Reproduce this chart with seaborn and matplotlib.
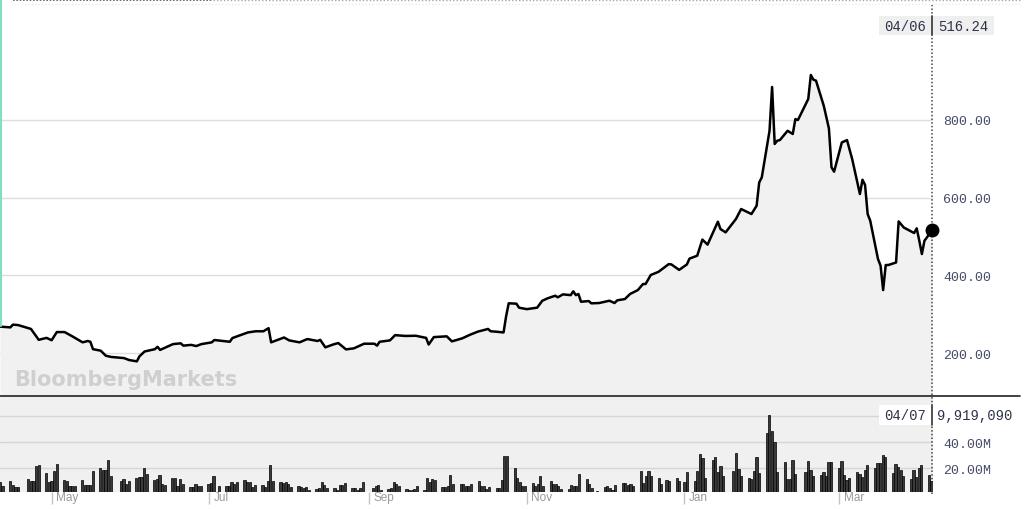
import pandas as pd
import matplotlib
matplotlib.use("Agg")
import matplotlib.pyplot as plt
from matplotlib.lines import Line2D
from matplotlib.patches import Rectangle
from matplotlib.transforms import ScaledTranslation, blended_transform_factory
import seaborn as sns

# ---------------- data ----------------
price_dates = [
    "2019-04-11", "2019-04-15", "2019-04-16", "2019-04-18", "2019-04-21", "2019-04-23",
    "2019-04-26", "2019-04-29", "2019-05-01", "2019-05-03", "2019-05-06", "2019-05-09",
    "2019-05-13", "2019-05-15", "2019-05-16", "2019-05-17", "2019-05-20", "2019-05-22",
    "2019-05-24", "2019-05-29", "2019-05-31", "2019-06-03", "2019-06-04", "2019-06-06",
    "2019-06-10", "2019-06-11", "2019-06-12", "2019-06-17", "2019-06-20", "2019-06-21",
    "2019-06-24", "2019-06-26", "2019-06-28", "2019-07-02", "2019-07-03", "2019-07-09",
    "2019-07-10", "2019-07-15", "2019-07-16", "2019-07-19", "2019-07-22", "2019-07-24",
    "2019-07-25", "2019-07-26", "2019-07-30", "2019-08-01", "2019-08-05", "2019-08-08",
    "2019-08-12", "2019-08-13", "2019-08-15", "2019-08-18", "2019-08-20", "2019-08-23",
    "2019-08-26", "2019-08-30", "2019-09-03", "2019-09-04", "2019-09-05", "2019-09-09",
    "2019-09-11", "2019-09-15", "2019-09-19", "2019-09-23", "2019-09-24", "2019-09-26",
    "2019-10-01", "2019-10-03", "2019-10-07", "2019-10-10", "2019-10-13", "2019-10-17",
    "2019-10-18", "2019-10-20", "2019-10-23", "2019-10-24", "2019-10-25", "2019-10-28",
    "2019-10-29", "2019-11-01", "2019-11-05", "2019-11-07", "2019-11-09", "2019-11-12",
    "2019-11-13", "2019-11-15", "2019-11-18", "2019-11-19", "2019-11-20", "2019-11-21",
    "2019-11-22", "2019-11-25", "2019-11-26", "2019-11-29", "2019-12-03", "2019-12-05",
    "2019-12-06", "2019-12-09", "2019-12-11", "2019-12-14", "2019-12-16", "2019-12-17",
    "2019-12-19", "2019-12-22", "2019-12-26", "2019-12-27", "2019-12-30", "2020-01-02",
    "2020-01-03", "2020-01-06", "2020-01-08", "2020-01-10", "2020-01-14", "2020-01-15",
    "2020-01-17", "2020-01-21", "2020-01-23", "2020-01-27", "2020-01-29", "2020-01-30",
    "2020-01-31", "2020-02-03", "2020-02-04", "2020-02-05", "2020-02-06", "2020-02-07",
    "2020-02-10", "2020-02-12", "2020-02-13", "2020-02-14", "2020-02-18", "2020-02-19",
    "2020-02-20", "2020-02-21", "2020-02-24", "2020-02-26", "2020-02-27", "2020-02-28",
    "2020-03-02", "2020-03-04", "2020-03-06", "2020-03-09", "2020-03-10", "2020-03-11",
    "2020-03-12", "2020-03-13", "2020-03-16", "2020-03-17", "2020-03-18", "2020-03-19",
    "2020-03-20", "2020-03-23", "2020-03-24", "2020-03-26", "2020-03-30", "2020-03-31",
    "2020-04-01", "2020-04-02", "2020-04-03", "2020-04-06",
]
price_values = [
    268, 266, 273, 272, 266, 262,
    234, 239, 233, 254, 254, 243,
    227.5, 231, 229, 210, 206, 193,
    190, 187, 182, 178.6, 191.5, 204,
    210, 216, 208, 223, 225, 219,
    221, 218, 223, 227.5, 233.5, 229,
    238.6, 250.6, 253, 256, 256, 264,
    227.5, 230, 240, 232.5, 227.5, 236,
    231, 234, 214.6, 222, 225.7, 209.4,
    212, 224, 224, 219, 229, 232.5,
    246, 244, 244.5, 239, 222, 241,
    243, 230, 237.8, 247, 255, 262,
    256, 255, 253, 295, 328, 327,
    316.7, 313, 316.7, 334.6, 340.7, 347.5,
    343.4, 351, 349, 358.8, 349, 351.9,
    332, 333.8, 327.9, 328.7, 334.6, 328.7,
    335.6, 339, 352, 362, 377.6, 377.6,
    400.8, 409, 429, 428, 414, 428,
    443, 450.5, 492, 479, 538, 519,
    510.6, 545, 570.6, 557.8, 579, 639,
    652, 772, 884.7, 738, 746.5, 748,
    772, 763.7, 802, 799.7, 853.8, 915.6,
    903.5, 901, 836.5, 778, 678, 666.7,
    742, 748, 699.4, 609.3, 646, 632.4,
    557.8, 540.5, 442, 424.7, 362, 426.5,
    426.5, 433, 538.8, 523, 508.9, 520.9,
    489, 454.8, 489, 516.24,
]

market_holidays = ["2019-04-19", "2019-05-27", "2019-07-04", "2019-09-02", "2019-11-28",
                   "2019-12-25", "2020-01-01", "2020-01-20", "2020-02-17"]
volume_first_day = "2019-04-11"
volume_last_day = "2020-04-07"
volume_millions = [
    9.7, 6.1,
    10.2, 7.1, 5.4, 5.9,
    11.7, 10.5, 10.5, 21.5, 22.3,
    16.4, 9.2, 10.5, 18.2, 23.6,
    10.7, 10.2, 6.1, 6.6, 6.6,
    10.7, 7.1, 7.1, 7.1, 17.7,
    20.5, 18.4, 18.4, 26.3, 13.8,
    10.2, 11.7, 7.6, 10.2,
    12.8, 13.3, 13.3, 20.2, 15.9,
    10.7, 11.7, 14.8, 7.6, 7.1,
    12.2, 12.5, 6.1, 11.7, 7.6,
    5.4, 5.4, 8.1, 6.1, 6.6,
    7.9, 8.6, 14.1, 6.1,
    6.1, 6.6, 9.2, 7.6, 9.2,
    11.2, 9.2, 9.2, 5.4, 7.1,
    7.1, 5.4, 10.5, 22.2, 10.5,
    9.2, 8.7, 9.2, 8.2, 5.7,
    6.6, 5.7, 5.1, 5.7, 3.6,
    4.1, 5.1, 9.7, 7.1, 5.1,
    5.1, 3.6, 7.1, 7.1, 8.7,
    5.1, 5.1, 3.6, 5.1, 9.2,
    5.1, 6.2, 7.1, 3.6,
    4.1, 5.1, 9.7, 7.7, 6.2,
    4.1, 3.6, 3.6, 4.1, 6.2,
    3.6, 12.2, 9.2, 11.5, 11.0,
    5.7, 5.7, 6.2, 14.5, 7.7,
    8.2, 8.2, 6.6, 6.6, 8.2,
    10.0, 6.6, 6.2, 4.1, 5.7,
    5.1, 5.1, 11.0, 29.7, 29.7,
    20.4, 12.2, 9.2, 6.2, 6.2,
    8.4, 6.6, 7.9, 14.0, 6.2,
    10.0, 7.7, 8.2, 6.2, 4.1,
    4.1, 7.1, 6.6, 6.2, 15.8,
    12.0, 7.7, 5.1, 2.8,
    5.7, 6.2, 5.1, 3.6, 7.1,
    8.7, 8.7, 7.1, 7.7, 6.6,
    17.9, 8.7, 14.0, 17.9, 14.0,
    12.9, 8.2, 10.8, 10.3,
    12.5, 10.3, 9.7, 17.4,
    10.3, 17.9, 31.2, 28.1, 12.5,
    26.7, 28.7, 16.9, 21.5, 13.8,
    17.9, 31.5, 19.5, 14.0,
    12.9, 12.0, 17.9, 28.7, 16.4,
    47.1, 61.2, 48.7, 40.0, 16.9,
    24.6, 11.8, 11.8, 26.7, 15.8,
    16.9, 25.7, 18.4, 14.3,
    15.0, 16.9, 14.3, 24.6, 24.6,
    20.5, 25.7, 15.0, 10.9, 12.9,
    16.9, 15.6, 13.3, 18.9, 22.5,
    20.5, 24.1, 24.1, 30.3, 28.7,
    16.4, 23.1, 21.0, 18.9, 14.3,
    11.8, 18.4, 13.3, 20.0, 22.5,
    15.0, 9.92,
]

price_ticks = [200, 400, 600, 800]
volume_grid = [20, 40, 60]
volume_tick_labels = ["20.00M", "40.00M", ""]   # 60M label sits under the last-volume box
month_ticks = ["2019-05-01", "2019-07-01", "2019-09-01", "2019-11-01", "2020-01-01", "2020-03-01"]
month_labels = ["May", "Jul", "Sep", "Nov", "Jan", "Mar"]
last_price_date_label = "04/06"
last_price_label = "516.24"
last_volume_date_label = "04/07"
last_volume_value = 9919090
watermark = "BloombergMarkets"

# ---------------- styling ----------------
sns.set_theme(style="white")
plt.rcParams["font.family"] = ["Liberation Sans", "DejaVu Sans"]

W, H = 1024, 510
fig = plt.figure(figsize=(W / 100, H / 100), dpi=100)
fig.patch.set_facecolor("white")


def fx(px):
    return px / W


def fy(py):
    return 1 - py / H


AX_RIGHT = 932.5
P_TOP, P_BOT = 2, 396
V_TOP, V_BOT = 397, 492.7
ax_p = fig.add_axes([0, fy(P_BOT), fx(AX_RIGHT), (P_BOT - P_TOP) / H])
ax_v = fig.add_axes([0, fy(V_BOT), fx(AX_RIGHT), (V_BOT - V_TOP) / H])

x0 = pd.Timestamp("2019-04-11")
px_per_day_price = 2.5823
px_per_day_vol = 2.5732
xlim_p = (x0, x0 + pd.Timedelta(days=AX_RIGHT / px_per_day_price))
xlim_v = (x0, x0 + pd.Timedelta(days=AX_RIGHT / px_per_day_vol))

mono = ["Liberation Mono", "DejaVu Sans Mono"]
label_col = "#454b66"
dot_style = dict(color="#444444", lw=1.1, linestyle=(0, (1, 1.4)), clip_on=False)

# ---- price panel ----
df = pd.DataFrame({"date": pd.to_datetime(price_dates), "price": price_values})
last_date = df["date"].iloc[-1]
ax_p.set_facecolor("white")
ax_p.fill_between(df["date"], df["price"], 0, color="#f1f1f1", lw=0, zorder=1)
sns.lineplot(data=df, x="date", y="price", ax=ax_p, color="black", lw=1.8, zorder=3)
ax_p.axvline(last_date, ymin=0, ymax=(P_BOT - 6) / (P_BOT - P_TOP), zorder=4, **dot_style)
ax_p.plot(last_date, df["price"].iloc[-1], "o", color="black", mec="black",
          mew=0, ms=10, clip_on=False, zorder=6)
ax_p.set_xlim(*xlim_p)
ax_p.set_ylim(92, 1106)
ax_p.set_yticks(price_ticks)
ax_p.set_yticklabels([f"{v:.2f}" for v in price_ticks])
ax_p.yaxis.tick_right()
ax_p.tick_params(axis="y", length=0, pad=7.5, labelsize=9.5, labelcolor=label_col)
for lab in ax_p.get_yticklabels():
    lab.set_family(mono)
ax_p.set_xticks([])
ax_p.grid(axis="y", color="#dedede", lw=1, zorder=0)
ax_p.set_xlabel("")
ax_p.set_ylabel("")
for s in ax_p.spines.values():
    s.set_visible(False)

# ---- volume panel ----
vdates = pd.bdate_range(volume_first_day, volume_last_day, freq="C", holidays=market_holidays)
assert len(vdates) == len(volume_millions), (len(vdates), len(volume_millions))
ax_v.set_facecolor("#f0f0f0")
ax_v.set_xlim(*xlim_p)
ax_v.set_ylim(2.0, 75.6)
ax_v.set_yticks(volume_grid)
ax_v.set_yticklabels(volume_tick_labels)
ax_v.yaxis.tick_right()
ax_v.tick_params(axis="y", length=0, pad=7.5, labelsize=9.5, labelcolor=label_col)
for lab in ax_v.get_yticklabels():
    lab.set_family(mono)
ax_v.grid(axis="y", color="#d6d6d6", lw=1, zorder=0)
ax_v.set_axisbelow(True)
ax_v.set_xticks(pd.to_datetime(month_ticks))
ax_v.set_xticklabels([""] * len(month_ticks))
ax_v.tick_params(axis="x", bottom=True, length=8.5, width=1, color="#c4c4c4", direction="out")
for s in ax_v.spines.values():
    s.set_visible(False)

ax_b = ax_v.twiny()
ax_b.bar(vdates, volume_millions, width=0.85, color="#3a3a3a", edgecolor="black", lw=0.5, zorder=3)
ax_b.set_xlim(*xlim_v)
ax_b.tick_params(top=False, labeltop=False, bottom=False, labelbottom=False)
for s in ax_b.spines.values():
    s.set_visible(False)
ax_v.axvline(last_date, ymin=-2.3 / (V_BOT - V_TOP), ymax=1, zorder=5, **dot_style)

lab_trans = blended_transform_factory(ax_v.transData, ax_v.transAxes) + \
    ScaledTranslation(4.5 / 100, 0, fig.dpi_scale_trans)
for d, lab in zip(pd.to_datetime(month_ticks), month_labels):
    ax_v.text(d, -0.06, lab, transform=lab_trans, ha="left", va="center",
              fontsize=8.5, color="#9a9a9a", clip_on=False)

# ---- decorations ----
fig.text(fx(14), fy(386.5), watermark, fontsize=15, fontweight="bold", color="#cfcfcf",
         family="DejaVu Sans", ha="left", va="baseline", zorder=3)

fig.add_artist(Line2D([0, fx(1020)], [fy(396.5)] * 2, color="#222222", lw=1.2, zorder=5))
fig.add_artist(Line2D([fx(13), fx(213)], [fy(1)] * 2, color="#555555", lw=1.2,
                      linestyle=(0, (1, 1)), zorder=5))
fig.add_artist(Line2D([fx(213), fx(1020)], [fy(1)] * 2, color="#a8a8a8", lw=1,
                      linestyle=(0, (1, 1.5)), zorder=5))
fig.add_artist(Line2D([fx(25), fx(1020)], [fy(5)] * 2, color="#e4e4e4", lw=0.8,
                      linestyle=(0, (1, 2)), zorder=5))
fig.add_artist(Line2D([fx(0.7)] * 2, [fy(0), fy(327)], color="#7fe0c2", lw=1.5, zorder=6))

# last price box
fig.add_artist(Rectangle((fx(879), fy(36)), fx(994) - fx(879), (36 - 17) / H,
                         transform=fig.transFigure, fc="#efefef", ec="none", zorder=7))
fig.add_artist(Line2D([fx(932)] * 2, [fy(17), fy(36)], color="#333333", lw=1.2, zorder=8))
fig.text(fx(926), fy(27), last_price_date_label, ha="right", va="center", family=mono,
         fontsize=10, color="#2e3447", zorder=9)
fig.text(fx(938), fy(27), last_price_label, ha="left", va="center", family=mono,
         fontsize=10, color="#2e3447", zorder=9)
# last volume box
fig.add_artist(Rectangle((fx(879), fy(426)), fx(1018) - fx(879), (426 - 406) / H,
                         transform=fig.transFigure, fc="white", ec="none", zorder=7))
fig.add_artist(Line2D([fx(932)] * 2, [fy(406), fy(426)], color="#333333", lw=1.2, zorder=8))
fig.text(fx(926), fy(416), last_volume_date_label, ha="right", va="center", family=mono,
         fontsize=10, color="#2e3447", zorder=9)
fig.text(fx(937), fy(416), f"{last_volume_value:,}", ha="left", va="center", family=mono,
         fontsize=10, color="#2e3447", zorder=9)

fig.savefig("out.png", dpi=100, facecolor="white")
